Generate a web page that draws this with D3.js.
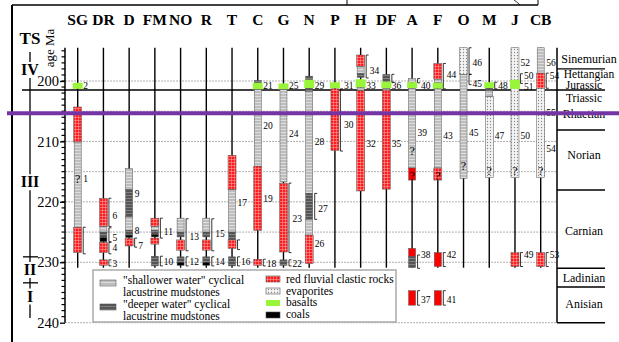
<!DOCTYPE html>
<html><head><meta charset="utf-8">
<script src="https://cdn.jsdelivr.net/npm/d3@7"></script>
<style>
body{margin:0;background:#fff}
svg{display:block;font-family:"Liberation Serif","Times New Roman",serif}
</style></head><body>
<div id="chart"></div>
<script>
// sections (columns) and their rock units, ages in Ma
const columns = ["SG","DR","D","FM","NO","R","T","C","G","N","P","H","DF","A","F","O","M","J","CB"];
const units = [
  {col:"SG",type:"bas",top:200.3,base:201.3},{col:"SG",type:"red",top:204.3,base:210.1},
  {col:"SG",type:"sh",top:210.1,base:224.2},{col:"SG",type:"red",top:224.2,base:228.4},
  {col:"DR",type:"red",top:219.4,base:224.1},{col:"DR",type:"sh",top:224.1,base:225.0},
  {col:"DR",type:"dp",top:225.0,base:225.9},{col:"DR",type:"coal",top:225.9,base:226.6},
  {col:"DR",type:"red",top:226.7,base:228.4},{col:"DR",type:"red",top:229.6,base:230.5},
  {col:"D",type:"sh",top:214.5,base:218.0},{col:"D",type:"dp",top:218.0,base:222.5},
  {col:"D",type:"sh",top:222.5,base:224.7},{col:"D",type:"dp",top:224.7,base:225.5},
  {col:"D",type:"coal",top:225.5,base:225.9},{col:"D",type:"red",top:226.1,base:227.3},
  {col:"FM",type:"red",top:222.7,base:224.1},{col:"FM",type:"sh",top:224.1,base:224.7},
  {col:"FM",type:"dp",top:224.7,base:225.4},{col:"FM",type:"coal",top:225.4,base:225.8},
  {col:"FM",type:"red",top:226.0,base:227.0},{col:"FM",type:"dp",top:229.0,base:230.6},
  {col:"NO",type:"sh",top:222.7,base:225.0},{col:"NO",type:"dp",top:225.0,base:225.8},
  {col:"NO",type:"red",top:226.3,base:228.0},{col:"NO",type:"dp",top:229.1,base:230.0},
  {col:"NO",type:"coal",top:230.0,base:230.5},
  {col:"R",type:"sh",top:222.7,base:225.0},{col:"R",type:"dp",top:225.0,base:225.8},
  {col:"R",type:"red",top:226.3,base:228.0},{col:"R",type:"dp",top:229.1,base:230.0},
  {col:"R",type:"coal",top:230.0,base:230.5},
  {col:"T",type:"red",top:212.3,base:218.0},{col:"T",type:"sh",top:218.0,base:225.0},
  {col:"T",type:"dp",top:225.0,base:226.3},{col:"T",type:"red",top:226.3,base:227.7},
  {col:"T",type:"dp",top:229.1,base:230.6},
  {col:"C",type:"dp",top:199.9,base:200.3},{col:"C",type:"bas",top:200.3,base:201.4},
  {col:"C",type:"sh",top:201.4,base:214.1},{col:"C",type:"red",top:214.1,base:224.7},
  {col:"C",type:"red",top:229.5,base:230.5},
  {col:"G",type:"bas",top:200.4,base:201.4},{col:"G",type:"sh",top:201.4,base:216.7},
  {col:"G",type:"red",top:216.9,base:228.3},{col:"G",type:"dp",top:229.6,base:230.5},
  {col:"N",type:"dp",top:199.2,base:199.8},{col:"N",type:"bas",top:199.8,base:201.2},
  {col:"N",type:"dp",top:201.2,base:201.7},{col:"N",type:"sh",top:201.7,base:218.6},
  {col:"N",type:"dp",top:218.6,base:222.9},{col:"N",type:"sh",top:222.9,base:225.5},
  {col:"N",type:"red",top:225.5,base:230.2},
  {col:"P",type:"bas",top:200.2,base:201.2},{col:"P",type:"red",top:201.3,base:211.5},
  {col:"H",type:"red",top:195.7,base:197.6},{col:"H",type:"sh",top:197.6,base:198.8},
  {col:"H",type:"dp",top:198.8,base:199.4},{col:"H",type:"bas",top:199.7,base:201.1},
  {col:"H",type:"sh",top:201.1,base:201.6},{col:"H",type:"red",top:201.6,base:218.2},
  {col:"DF",type:"dp",top:198.9,base:200.1},{col:"DF",type:"bas",top:200.1,base:201.2},
  {col:"DF",type:"sh",top:201.2,base:201.5},{col:"DF",type:"red",top:201.5,base:217.9},
  {col:"A",type:"sh",top:199.6,base:200.2},{col:"A",type:"bas",top:200.2,base:201.2},
  {col:"A",type:"sh",top:201.2,base:214.4},{col:"A",type:"redS",top:214.4,base:216.4},
  {col:"A",type:"dp",top:229.0,base:230.9},{col:"A",type:"redS",top:227.7,base:229.0},
  {col:"A",type:"redS",top:234.7,base:237.1},
  {col:"F",type:"red",top:197.1,base:199.7},{col:"F",type:"sh",top:199.7,base:200.3},
  {col:"F",type:"bas",top:200.3,base:201.3},{col:"F",type:"sh",top:201.3,base:214.4},
  {col:"F",type:"red",top:214.4,base:216.4},{col:"F",type:"redS",top:228.4,base:230.7},
  {col:"F",type:"redS",top:234.7,base:237.1},
  {col:"O",type:"ev",top:194.5,base:198.9},{col:"O",type:"sh",top:198.9,base:216.1},
  {col:"M",type:"bas",top:200.2,base:201.2},{col:"M",type:"dp",top:201.2,base:201.6},
  {col:"M",type:"sh",top:201.6,base:202.6},{col:"M",type:"ev",top:202.6,base:216.0},
  {col:"J",type:"ev",top:194.5,base:216.0},{col:"J",type:"bas",top:199.8,base:201.3},
  {col:"J",type:"red",top:228.4,base:230.7},
  {col:"CB",type:"sh",top:194.5,base:198.7},{col:"CB",type:"red",top:198.7,base:201.2},
  {col:"CB",type:"ev",top:201.2,base:216.0},{col:"CB",type:"red",top:228.4,base:230.7}
];
const unitLabels = [
  ["SG",200.8,"2"],["SG",216.2,"1"],
  ["DR",222.3,"6"],["DR",226.0,"5"],["DR",227.6,"4"],["DR",230.3,"3"],
  ["D",218.7,"9"],["D",224.8,"8"],["D",227.2,"7"],
  ["FM",225.0,"11"],["FM",229.9,"10"],["NO",225.7,"13"],["NO",229.9,"12"],
  ["R",225.3,"15"],["R",229.9,"14"],["T",220.2,"17"],["T",229.9,"16"],
  ["C",200.8,"21"],["C",207.4,"20"],["C",219.4,"19"],["C",230.2,"18"],
  ["G",200.8,"25"],["G",208.7,"24"],["G",222.8,"23"],["G",230.2,"22"],
  ["N",200.7,"29"],["N",210.0,"28"],["N",221.1,"27"],["N",226.9,"26"],
  ["P",200.8,"31"],["P",207.3,"30"],
  ["H",198.3,"34"],["H",200.8,"33"],["H",210.4,"32"],
  ["DF",200.8,"36"],["DF",210.4,"35"],
  ["A",200.8,"40"],["A",208.6,"39"],["A",228.7,"38"],["A",236.2,"37"],
  ["F",199.0,"44"],["F",209.1,"43"],["F",228.8,"42"],["F",236.2,"41"],
  ["O",196.9,"46"],["O",200.5,"45"],["O",208.6,"45"],
  ["M",200.8,"48"],["M",209.0,"47"],
  ["J",196.9,"52"],["J",199.2,"50"],["J",200.9,"51"],["J",209.0,"50"],["J",228.8,"49"],
  ["CB",196.9,"56"],["CB",199.2,"54"],["CB",205.3,"55"],["CB",211.2,"54"],["CB",228.8,"53"]
];
const brackets = [
  ["SG",224.2,228.6],["DR",219.4,224.1],["DR",224.3,226.6],["DR",226.7,228.6],["DR",229.6,230.6],
  ["D",226.0,227.5],["FM",222.7,226.0],["FM",229.0,230.6],["NO",222.8,228.1],["NO",229.1,230.6],
  ["R",222.8,228.1],["R",229.1,230.6],["T",226.3,227.9],["T",229.1,230.6],["C",229.5,230.6],
  ["G",216.9,228.4],["G",229.6,230.6],["N",218.6,222.9],["P",201.3,211.6],["H",195.7,199.5],
  ["DF",198.9,200.2],["A",199.6,200.3],["A",228.8,231.0],["A",234.7,237.1],["F",197.1,201.3],
  ["F",228.4,230.7],["F",234.7,237.1],["O",194.5,198.9],["O",198.9,200.6],["M",200.2,201.3],
  ["J",198.8,200.4],["J",228.4,230.7],["CB",198.7,201.2],["CB",228.4,230.7]
];
const questionAges = [["SG",216.8],["A",212.3],["A",216.4],["F",216.4],["O",214.8],["M",215.6],["J",215.6],["CB",215.6]];

// age axis, grid, stages, tectonosequences
const ageTicks = [200,210,220,230,240];
const gridAges = [200,205,210,215,220,225,230,240];
const stageNames = ["Sinemurian","Hettangian","Jurassic","Triassic","Rhaetian","Norian","Carnian","Ladinian","Anisian"];
const stageLabelAges = [197.0,199.45,201.3,203.4,206.1,212.9,225.5,233.3,237.6];
const stageBounds = [198.0,208.1,218.05,231.0,234.1,240];
const tsNames = ["IV","III","II","I"];
const tsLabelAges = [199.0,217.6,232.1,236.5];
const tsBounds = [201.5,229.1,233.4];

// legend
const legendTypes = ["sh","dp","red","ev","bas","coal"];
const legendTexts = [["\"shallower water\" cyclical","lacustrine mudstones"],["\"deeper water\" cyclical","lacustrine mudstones"],
  ["red fluvial clastic rocks"],["evaporites"],["basalts"],["coals"]];

const width = 619, height = 342;
const svg = d3.select("#chart").append("svg").attr("width", width).attr("height", height);

const x = d3.scalePoint().domain(columns).range([77.7, 540.7]);
const y = d3.scaleLinear().domain([200, 240]).range([81, 322.7]);
const topAge = 194.5, stemBase = 230.9;

// fill patterns
const defs = svg.append("defs");
function pattern(id, bg, fn) {
  const p = defs.append("pattern").attr("id", id).attr("patternUnits", "userSpaceOnUse")
    .attr("width", 3).attr("height", 3);
  p.append("rect").attr("width", 3).attr("height", 3).attr("fill", bg);
  fn(p);
}
pattern("p-sh", "#bdbdbd", p => p.append("path").attr("d", "M0 0.5H3").attr("stroke", "#e4e4e4").attr("stroke-width", 0.8));
pattern("p-dp", "#555", p => p.append("path").attr("d", "M0 0.5H3").attr("stroke", "#8e8e8e").attr("stroke-width", 0.8));
pattern("p-red", "#ff1c1c", p => p.append("path").attr("d", "M0 0.5H3M0.5 0V3").attr("stroke", "#ff9c9c").attr("stroke-width", 0.6));
pattern("p-ev", "#f4f4f4", p => p.append("circle").attr("cx", 1.5).attr("cy", 1.5).attr("r", 0.65).attr("fill", "#8a8a8a"));
const fills = {sh:"url(#p-sh)", dp:"url(#p-dp)", red:"url(#p-red)", ev:"url(#p-ev)", redS:"#ff0000", bas:"#99f53a", coal:"#000"};
const widths = {sh:7, dp:7, red:8, ev:8, redS:7, bas:10, coal:7};

// frame
svg.append("line").attr("x1", 12).attr("x2", 12).attr("y1", 5).attr("y2", height).attr("stroke", "#000").attr("stroke-width", 2);
svg.append("line").attr("x1", 12).attr("x2", 538).attr("y1", 5).attr("y2", 5).attr("stroke", "#000").attr("stroke-width", 1.5);
svg.append("line").attr("x1", 347).attr("x2", 347).attr("y1", 0).attr("y2", 5).attr("stroke", "#000");
svg.append("line").attr("x1", 538).attr("x2", 538).attr("y1", 0).attr("y2", 5).attr("stroke", "#000");
svg.append("path").attr("d", "M514 0Q517 2 520 5").attr("fill", "none").attr("stroke", "#000").attr("stroke-width", 0.8);

// grid
svg.append("g").selectAll("line").data(gridAges).join("line")
  .attr("x1", 65).attr("x2", 557).attr("y1", d => y(d)).attr("y2", d => y(d))
  .attr("stroke", "#b0b0b0").attr("stroke-width", 1).attr("stroke-dasharray", "2,1");

// column headers
svg.append("g").selectAll("text").data(columns).join("text")
  .attr("x", d => x(d)).attr("y", 25).attr("text-anchor", "middle")
  .style("font-size", "15.5px").style("font-weight", "bold").text(d => d);

// age axis
const axis = svg.append("g").attr("transform", "translate(65,0)")
  .call(d3.axisLeft(y).tickValues(ageTicks).tickSize(5).tickPadding(1));
axis.select(".domain").remove();
axis.selectAll("text").style("font-family", "Liberation Serif").style("font-size", "14.5px").attr("fill", "#000");
axis.selectAll("line").attr("stroke-width", 1.3);
svg.append("line").attr("x1", 65).attr("x2", 65).attr("y1", y(topAge)).attr("y2", y(240))
  .attr("stroke", "#000").attr("stroke-width", 1.5);
svg.append("g").selectAll("line").data(d3.range(195, 240)).join("line")
  .attr("x1", 61.5).attr("x2", 65).attr("y1", d => y(d)).attr("y2", d => y(d))
  .attr("stroke", "#000").attr("stroke-width", 1.2);
svg.append("text").attr("transform", "translate(54,48) rotate(-90)").attr("text-anchor", "middle")
  .style("font-size", "13px").text("age Ma");

// TS column
svg.append("text").attr("x", 30).attr("y", 44).attr("text-anchor", "middle")
  .style("font-size", "17px").style("font-weight", "bold").text("TS");
const tsY = tsLabelAges.map(a => y(a));
let segStart = 52;
tsY.forEach(b => {
  svg.append("line").attr("x1", 30).attr("x2", 30).attr("y1", segStart).attr("y2", b - 13)
    .attr("stroke", "#000").attr("stroke-width", 1.3);
  segStart = b + 3;
});
svg.append("line").attr("x1", 30).attr("x2", 30).attr("y1", segStart).attr("y2", 318)
  .attr("stroke", "#000").attr("stroke-width", 1.3);
svg.append("g").selectAll("text").data(tsNames).join("text")
  .attr("x", 30).attr("y", (d, i) => tsY[i]).attr("text-anchor", "middle")
  .style("font-size", "16px").style("font-weight", "bold").text(d => d);
svg.append("g").selectAll("line").data(tsBounds.slice(1)).join("line")
  .attr("x1", 23).attr("x2", 38).attr("y1", d => y(d)).attr("y2", d => y(d))
  .attr("stroke", "#000").attr("stroke-width", 1.3);

// Jurassic / Triassic boundary
svg.append("line").attr("x1", 22).attr("x2", 605).attr("y1", y(tsBounds[0])).attr("y2", y(tsBounds[0]))
  .attr("stroke", "#000").attr("stroke-width", 1.4);

// stage column
svg.append("line").attr("x1", 557).attr("x2", 557).attr("y1", y(topAge)).attr("y2", y(240))
  .attr("stroke", "#000").attr("stroke-width", 1.5);
svg.append("g").selectAll("line").data(stageBounds).join("line")
  .attr("x1", 557).attr("x2", 605).attr("y1", d => y(d)).attr("y2", d => y(d))
  .attr("stroke", "#000").attr("stroke-width", 1.4);
svg.append("g").selectAll("text").data(stageNames).join("text")
  .attr("x", (d, i) => i < 2 ? 589 : 584).attr("y", (d, i) => y(stageLabelAges[i])).attr("text-anchor", "middle")
  .style("font-size", (d, i) => i > 0 && i < 4 ? "11.5px" : "12px").text(d => d);

// stems
svg.append("g").selectAll("line").data(columns).join("line")
  .attr("x1", d => x(d)).attr("x2", d => x(d)).attr("y1", y(topAge)).attr("y2", y(stemBase))
  .attr("stroke", "#000").attr("stroke-width", 1.4);

// rock units
svg.append("g").selectAll("rect").data(units).join("rect")
  .attr("x", d => x(d.col) - widths[d.type] / 2).attr("width", d => widths[d.type])
  .attr("y", d => y(d.top)).attr("height", d => y(d.base) - y(d.top))
  .attr("fill", d => fills[d.type]).attr("stroke", d => d.type === "bas" ? "none" : "#555").attr("stroke-width", 0.5);

// brackets
svg.append("g").selectAll("path").data(brackets).join("path")
  .attr("d", d => { const bx = x(d[0]) + 5.5, y0 = y(d[1]), y1 = y(d[2]);
    return `M${bx + 2.5},${y0}H${bx}V${y1}H${bx + 2.5}`; })
  .attr("fill", "none").attr("stroke", "#000").attr("stroke-width", 0.8);

// unit numbers (shifted right when they sit beside a bracket)
const hasBracket = d => brackets.some(b => b[0] === d[0] && d[1] >= b[1] - 0.6 && d[1] <= b[2] + 0.6);
svg.append("g").selectAll("text").data(unitLabels).join("text")
  .attr("x", d => x(d[0]) + (hasBracket(d) ? 9 : 5.5)).attr("y", d => y(d[1])).attr("dy", "0.35em")
  .style("font-size", "9.5px").text(d => d[2]);
svg.append("g").selectAll("text").data(questionAges).join("text")
  .attr("x", d => x(d[0])).attr("y", d => y(d[1])).attr("text-anchor", "middle")
  .style("font-size", "12px").text("?");

// purple marker line
svg.append("line").attr("x1", 7).attr("x2", width).attr("y1", 113.3).attr("y2", 113.3)
  .attr("stroke", "#7434a4").attr("stroke-width", 4);

// legend
const lg = svg.append("g");
lg.append("rect").attr("x", 93).attr("y", 270).attr("width", 303).attr("height", 52)
  .attr("fill", "#fff").attr("stroke", "#aaa").attr("stroke-width", 1.5);
const legendPos = [[100,280,284],[100,304,308],[266,276,283],[266,288,295],[266,300,306],[266,312,318]];
legendTypes.forEach((t, i) => {
  const [lx, ly, tb] = legendPos[i];
  lg.append("rect").attr("x", lx).attr("y", ly).attr("width", i < 2 ? 16 : 14).attr("height", 6)
    .attr("fill", fills[t]).attr("stroke", t === "bas" ? "none" : "#555").attr("stroke-width", 0.6);
  legendTexts[i].forEach((s, j) => {
    lg.append("text").attr("x", lx + (i < 2 ? 23 : 20)).attr("y", tb + j * 12)
      .style("font-size", "11.5px").text(s);
  });
});
</script>
</body></html>
